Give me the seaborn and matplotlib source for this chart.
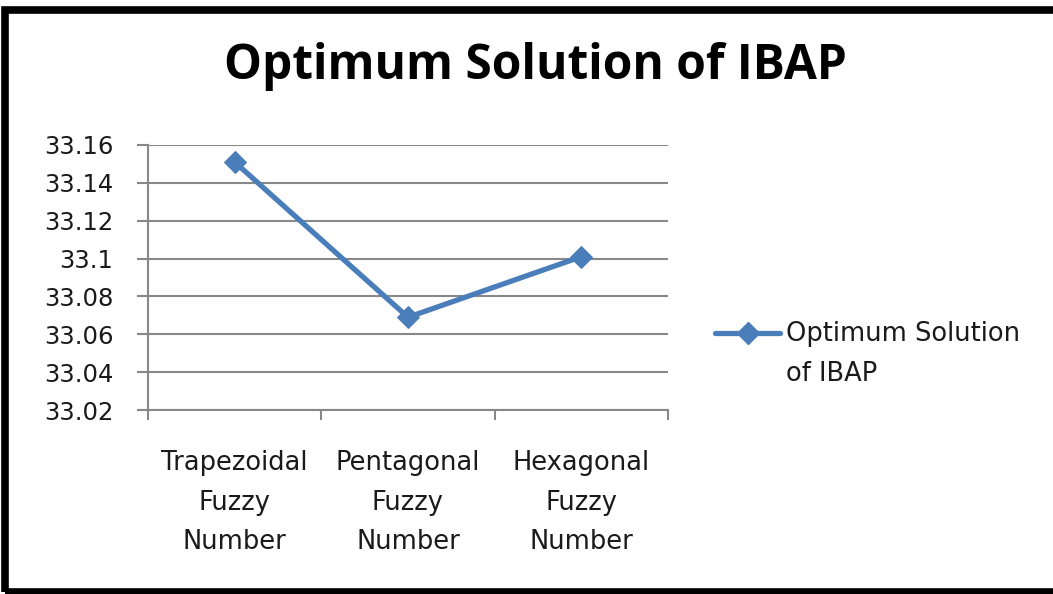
import matplotlib
matplotlib.use("Agg")
import matplotlib.pyplot as plt
import seaborn as sns
import pandas as pd
from matplotlib.patches import Rectangle
from matplotlib.lines import Line2D

categories = ["Trapezoidal\nFuzzy\nNumber", "Pentagonal\nFuzzy\nNumber", "Hexagonal\nFuzzy\nNumber"]
values = [33.151, 33.069, 33.101]
series_name = "Optimum Solution\nof IBAP"
title = "Optimum Solution of IBAP"
yticks = [33.02, 33.04, 33.06, 33.08, 33.1, 33.12, 33.14, 33.16]

sns.set_style("white")
plt.rcParams['font.family'] = ['DejaVu Sans']

df = pd.DataFrame({"x": list(range(len(categories))), "y": values})

fig = plt.figure(figsize=(10.53, 5.94), dpi=100)
W, H = 1053, 594
ax = fig.add_axes([148 / W, 1 - 410 / H, (668 - 148) / W, (410 - 145) / H])

blue = "#4A7EBB"
txt = "#1a1a1a"
sns.lineplot(data=df, x="x", y="y", ax=ax, color=blue, linewidth=3.8,
             marker="D", markersize=11, markeredgecolor=blue, legend=False)

ax.set_xlim(-0.5, len(categories) - 0.5)
ax.set_ylim(33.02, 33.16)
ax.set_yticks(yticks)
ax.set_yticklabels(["%g" % v for v in yticks], fontsize=17.5, color=txt)
ax.set_xticks(range(len(categories)))
ax.set_xticklabels(categories, fontsize=18.5, color=txt, linespacing=1.68)
ax.set_xticks([i - 0.5 for i in range(len(categories) + 1)], minor=True)
ax.tick_params(axis="x", which="major", bottom=False, length=0, pad=29)
ax.tick_params(axis="x", which="minor", bottom=True, length=7, width=1.5, color="#888888", direction="out")
ax.tick_params(axis="y", which="major", left=True, length=8, width=1.5, color="#888888", direction="out", pad=17)
ax.set_xlabel("")
ax.set_ylabel("")

ax.grid(axis="y", color="#888888", linewidth=1.5)
ax.set_axisbelow(True)
for s in ["top", "right"]:
    ax.spines[s].set_visible(False)
for s in ["left", "bottom"]:
    ax.spines[s].set_color("#888888")
    ax.spines[s].set_linewidth(1.5)

fig.text(535 / W, 1 - 79 / H, title, ha="center", va="baseline", fontsize=34.5,
         fontweight="bold", color="black", family="Open Sans")

# legend
fig.lines.append(Line2D([715 / W, 780 / W], [1 - 333 / H, 1 - 333 / H], transform=fig.transFigure,
                        color=blue, linewidth=3.8))
fig.lines.append(Line2D([747.5 / W], [1 - 333 / H], transform=fig.transFigure,
                        color=blue, marker="D", markersize=11, markeredgecolor=blue))
fig.text(786 / W, 1 - 321 / H, series_name, ha="left", va="top", fontsize=18.5,
         color=txt, linespacing=1.68)

fig.patches.append(Rectangle((5 / W, 2 / H), 1.2, 1 - 12 / H, transform=fig.transFigure,
                             fill=False, edgecolor="black", linewidth=5.5))

fig.savefig("out.png", dpi=100)
